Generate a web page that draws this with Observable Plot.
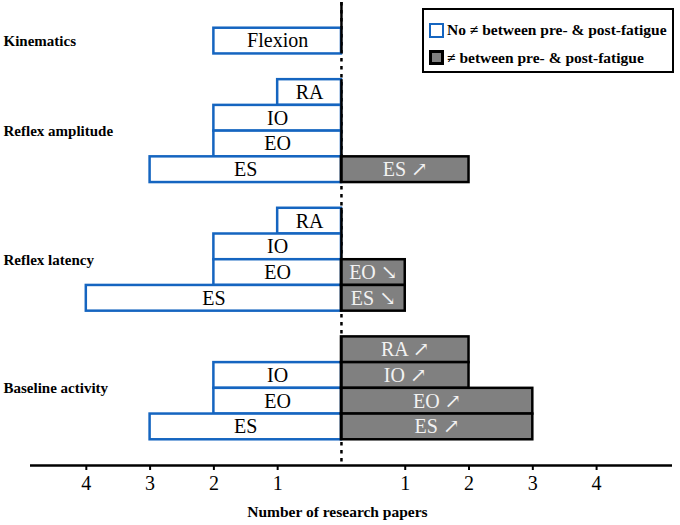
<!DOCTYPE html>
<html><head><meta charset="utf-8">
<script src="https://cdn.jsdelivr.net/npm/d3@7"></script>
<script src="https://cdn.jsdelivr.net/npm/@observablehq/plot@0.6"></script>
<style>
body{margin:0;background:#fff;}
#wrap{position:relative;width:680px;height:525px;font-family:"Liberation Serif","DejaVu Serif",serif;}
#wrap svg, #wrap svg text{font-family:"Liberation Serif","DejaVu Serif",serif;}
#legend{position:absolute;left:422px;top:8px;width:252px;height:65px;box-sizing:border-box;border:2.5px solid #000;background:#fff;}
.item{position:absolute;left:429px;height:20px;display:flex;align-items:center;white-space:nowrap;font-weight:bold;font-size:15.5px;color:#000;font-family:"Liberation Serif","DejaVu Serif",serif;}
.sw{width:15px;height:15px;box-sizing:border-box;border:2.5px solid;margin-right:3px;}
</style></head>
<body><div id="wrap"></div>
<script>
const groups = ["Kinematics", "Reflex amplitude", "Reflex latency", "Baseline activity"];
const rowGroups = ["Kinematics",
  "Reflex amplitude", "Reflex amplitude", "Reflex amplitude", "Reflex amplitude",
  "Reflex latency", "Reflex latency", "Reflex latency", "Reflex latency",
  "Baseline activity", "Baseline activity", "Baseline activity", "Baseline activity"];
const muscles = ["Flexion", "RA", "IO", "EO", "ES", "RA", "IO", "EO", "ES", "RA", "IO", "EO", "ES"];
const noChange = [2, 1, 2, 2, 3, 1, 2, 2, 4, 0, 2, 2, 3];
const changed = [0, 0, 0, 0, 2, 0, 0, 1, 1, 2, 2, 3, 3];
const changeDir = ["", "", "", "", "↗", "", "", "↘", "↘", "↗", "↗", "↗", "↗"];
const tickValues = [-4, -3, -2, -1, 1, 2, 3, 4];
const xLabel = "Number of research papers";
const legendLabels = ["No ≠ between pre- & post-fatigue", "≠ between pre- & post-fatigue"];

const blue = "#1565c0", gray = "#808080";
const yTop = -1.5, yBottom = 16.5;
const serif = "'Liberation Serif', 'DejaVu Serif', serif";

const rows = muscles.map((m, i) => {
  const gi = groups.indexOf(rowGroups[i]);
  return {muscle: m, group: rowGroups[i], gi, row: i + gi, no: noChange[i], yes: changed[i], dir: changeDir[i]};
});
const segments = groups.map((g, gi) => {
  const rs = rows.filter(r => r.gi === gi).map(r => r.row);
  return {group: g, y1: gi === 0 ? yTop : d3.min(rs) - 0.5, y2: d3.max(rs) + 0.5, yc: d3.mean(rs)};
});

const chart = Plot.plot({
  width: 680, height: 525,
  marginLeft: 30, marginRight: 8, marginTop: 2, marginBottom: 60,
  x: {domain: [-4.875, 5.19], axis: null},
  y: {domain: [yBottom, yTop], axis: null},
  style: {fontFamily: serif, background: "white", fontSize: "20px"},
  marks: [
    Plot.ruleX([0], {y1: yTop, y2: yBottom, stroke: "black", strokeWidth: 2.5, strokeDasharray: "3.5,4.5"}),
    Plot.rect(rows.filter(d => d.no > 0), {x1: d => -d.no, x2: 0, y1: d => d.row - 0.5, y2: d => d.row + 0.5, fill: "white", stroke: blue, strokeWidth: 2.5}),
    Plot.rect(rows.filter(d => d.yes > 0), {x1: 0, x2: d => d.yes, y1: d => d.row - 0.5, y2: d => d.row + 0.5, fill: gray, stroke: "black", strokeWidth: 2.5}),
    Plot.ruleX(segments, {x: 0, y1: "y1", y2: "y2", stroke: "black", strokeWidth: 2.5}),
    Plot.text(rows.filter(d => d.no > 0), {x: d => -d.no / 2, y: "row", text: "muscle", fontSize: 20, fill: "black", fontFamily: serif}),
    Plot.text(rows.filter(d => d.yes > 0), {x: d => d.yes / 2, y: "row", text: d => d.muscle + " " + d.dir, fontSize: 20, fill: "#f2f2f2", fontFamily: serif}),
    Plot.text(segments, {y: "yc", frameAnchor: "left", dx: -27, textAnchor: "start", text: "group", fontWeight: "bold", fontSize: 15, fontFamily: serif}),
    Plot.ruleY([yBottom], {stroke: "black", strokeWidth: 2.5}),
    Plot.axisX(tickValues, {anchor: "bottom", tickFormat: d => Math.abs(d), tickSize: 5, tickPadding: 5, fontSize: 20, fontFamily: serif, label: null, strokeWidth: 2}),
    Plot.text([xLabel], {x: 0, frameAnchor: "bottom", dy: 51, dx: -4, fontWeight: "bold", fontSize: 15.5, fontFamily: serif})
  ]
});

const wrap = document.getElementById("wrap");
wrap.appendChild(chart);
const lg = document.createElement("div");
lg.id = "legend";
wrap.appendChild(lg);
const swStyles = [{fill: "#fff", stroke: blue}, {fill: gray, stroke: "#000"}];
legendLabels.forEach((t, i) => {
  const it = document.createElement("div");
  it.className = "item";
  it.style.top = (i === 0 ? 20 : 47.5) + "px";
  const sw = document.createElement("span");
  sw.className = "sw";
  sw.style.background = swStyles[i].fill;
  sw.style.borderColor = swStyles[i].stroke;
  if (i === 1) sw.style.borderWidth = "3px";
  const tx = document.createElement("span");
  tx.textContent = t;
  it.appendChild(sw);
  it.appendChild(tx);
  wrap.appendChild(it);
});
</script>
</body></html>
